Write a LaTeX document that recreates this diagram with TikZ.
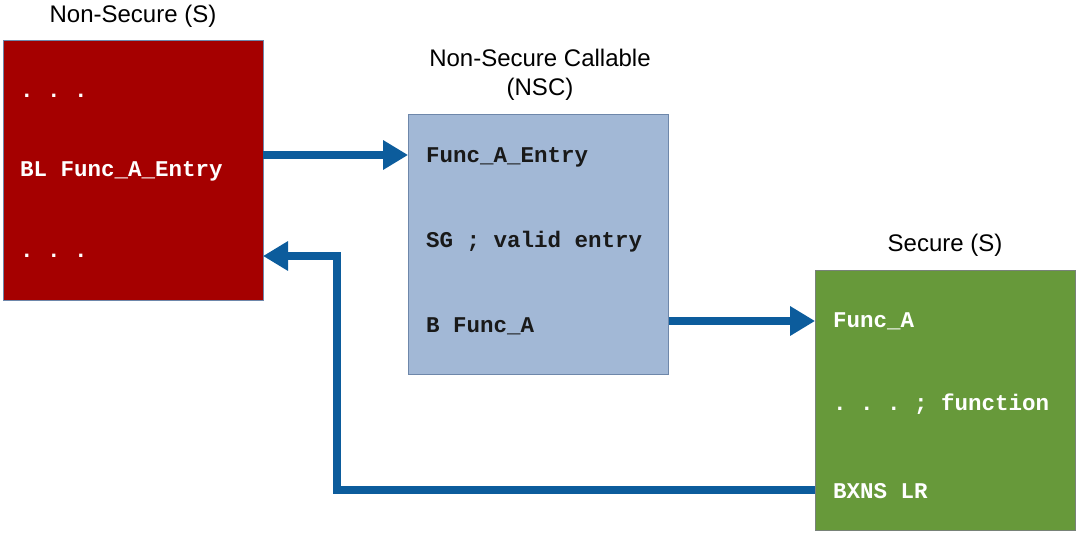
\documentclass[tikz,border=0pt]{standalone}
\usepackage{fontspec}
\setmainfont{Liberation Sans}
\setmonofont{Liberation Mono}
\usetikzlibrary{arrows.meta}
\definecolor{redbox}{RGB}{165,0,0}
\definecolor{bluebox}{RGB}{162,184,214}
\definecolor{blueedge}{RGB}{110,135,170}
\definecolor{greenbox}{RGB}{103,153,58}
\definecolor{greenedge}{RGB}{120,130,120}
\definecolor{arrowblue}{RGB}{12,92,156}
\tikzset{
  box/.style={rectangle, minimum width=260pt, minimum height=260pt, inner sep=0pt, line width=0.8pt},
  code/.style={anchor=west, inner sep=0pt, font=\fontsize{22.5}{26}\selectfont\ttfamily\bfseries},
  title/.style={align=center, inner sep=0pt, font=\fontsize{24}{29}\selectfont},
  arr/.style={draw=arrowblue, line width=8pt, -{Triangle[length=25pt,width=28pt]}},
}
\begin{document}
\begin{tikzpicture}[x=1pt,y=-1pt]
\useasboundingbox (0,0) rectangle (1080,535);
% boxes
\node[box, fill=redbox, draw=blueedge] (rbox) at (133,170) {};
\node[box, fill=bluebox, draw=blueedge] (bbox) at (538.5,244) {};
\node[box, fill=greenbox, draw=greenedge] (gbox) at (945.5,400) {};
% titles
\node[title] (rtitle) at (133,16) {Non-Secure (S)};
\node[title] (btitle) at (540,75) {Non-Secure Callable\\(NSC)};
\node[title] (gtitle) at (945,245) {Secure (S)};
% red texts
\node[code, text=white] (r1) at (20,96) {. . .};
\node[code, text=white] (r2) at (20,171) {BL Func\_A\_Entry};
\node[code, text=white] (r3) at (20,256) {. . .};
% blue texts
\node[code, text=black!90] (b1) at (426,157) {Func\_A\_Entry};
\node[code, text=black!90] (b2) at (426,242) {SG ; valid entry};
\node[code, text=black!90] (b3) at (426,326) {B Func\_A};
% green texts
\node[code, text=white] (g1) at (833,321) {Func\_A};
\node[code, text=white] (g2) at (833,404) {. . . ; function};
\node[code, text=white] (g3) at (833,491) {BXNS LR};
% connectors
\coordinate (ret1) at (815,490);
\coordinate (bend1) at (337,490);
\coordinate (bend2) at (337,256);
\coordinate (ret2) at (263,256);
\draw[arr] (rbox.east |- 0,155) -- (bbox.west |- 0,155);
\draw[arr] (bbox.east |- 0,321) -- (gbox.west |- 0,321);
\draw[arr] (ret1) -- (bend1) -- (bend2) -- (ret2);
\end{tikzpicture}
\end{document}
